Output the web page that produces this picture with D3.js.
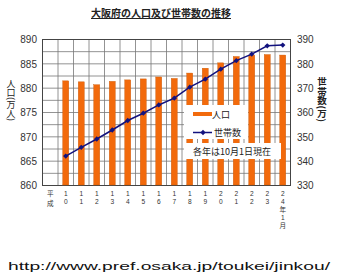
<!DOCTYPE html>
<html lang="ja">
<head>
<meta charset="UTF-8">
<title>大阪府の人口及び世帯数の推移</title>
<script src="https://d3js.org/d3.v7.min.js"></script>
<style>
  body { margin: 0; background: #fff; }
  text { font-family: "Liberation Sans", "Noto Sans CJK JP", sans-serif; }
  .jp { font-family: "Noto Sans CJK JP", sans-serif; }
</style>
</head>
<body>
<svg class="chart" width="355" height="278"></svg>
<script>
// data
const years = ["10", "11", "12", "13", "14", "15", "16", "17", "18", "19", "20", "21", "22", "23", "24年1月"];
const population = [881.4, 881.2, 880.6, 881.3, 881.6, 881.8, 882.2, 881.9, 883.0, 884.0, 885.1, 886.4, 886.7, 886.8, 886.7];
const households = [341.9, 345.5, 348.9, 352.6, 356.5, 359.5, 362.9, 365.7, 370.2, 373.5, 377.6, 381.1, 383.8, 387.2, 387.5];
const leftTicks = [860, 865, 870, 875, 880, 885, 890];
const rightTicks = [330, 340, 350, 360, 370, 380, 390];

const svg = d3.select('.chart');
const plot = { left: 42, right: 290, top: 39, bottom: 185 };

const x = d3.scaleBand()
    .domain(["平成"].concat(years))
    .range([plot.left, plot.right]);
const yL = d3.scaleLinear().domain([860, 890]).range([plot.bottom, plot.top]);
const yR = d3.scaleLinear().domain([330, 390]).range([plot.bottom, plot.top]);

// title
svg.append('text')
    .attr('class', 'jp')
    .attr('x', 161).attr('y', 17)
    .attr('text-anchor', 'middle')
    .attr('font-size', 10).attr('font-weight', 'bold')
    .attr('text-decoration', 'underline')
    .attr('fill', '#222')
    .text('大阪府の人口及び世帯数の推移');

// grid
const grid = svg.append('g');
grid.selectAll('.hg').data(d3.range(860, 890.01, 2.5)).join('line')
    .attr('x1', plot.left).attr('x2', plot.right)
    .attr('y1', d => yL(d) + 0.5).attr('y2', d => yL(d) + 0.5)
    .attr('stroke', '#777').attr('stroke-width', 0.8);
grid.selectAll('.vg').data(x.domain()).join('line')
    .attr('x1', d => x(d) + 0.5).attr('x2', d => x(d) + 0.5)
    .attr('y1', plot.top).attr('y2', plot.bottom)
    .attr('stroke', '#777').attr('stroke-width', 0.8);
svg.append('rect')
    .attr('x', plot.left + 0.5).attr('y', plot.top + 0.5)
    .attr('width', plot.right - plot.left).attr('height', plot.bottom - plot.top)
    .attr('fill', 'none').attr('stroke', '#444').attr('stroke-width', 1);

// bars
const barW = 6;
svg.append('g').selectAll('rect').data(years).join('rect')
    .attr('x', (d, i) => x(d) + x.bandwidth() / 2 - barW / 2 + 0.5)
    .attr('y', (d, i) => yL(population[i]))
    .attr('width', barW)
    .attr('height', (d, i) => yL(860) - yL(population[i]))
    .attr('fill', '#F26A0C')
    .attr('stroke', '#c85a08').attr('stroke-width', 0.4);

// legend + note boxes
svg.append('rect').attr('x', 184).attr('y', 105).attr('width', 64).attr('height', 34).attr('fill', '#fff');
svg.append('rect').attr('x', 184).attr('y', 143).attr('width', 97).attr('height', 16).attr('fill', '#fff');

// household line
const line = d3.line()
    .x((d, i) => x(years[i]) + x.bandwidth() / 2 + 0.5)
    .y(d => yR(d));
svg.append('path').datum(households)
    .attr('d', line)
    .attr('fill', 'none').attr('stroke', '#12127e').attr('stroke-width', 1.5);
const diamond = d3.symbol().type(d3.symbolDiamond2).size(18);
svg.append('g').selectAll('path').data(households).join('path')
    .attr('transform', (d, i) => `translate(${x(years[i]) + x.bandwidth() / 2 + 0.5},${yR(d)})`)
    .attr('d', diamond)
    .attr('fill', '#12127e');

// legend contents
svg.append('rect').attr('x', 193).attr('y', 112).attr('width', 19).attr('height', 4).attr('fill', '#F26A0C');
svg.append('text').attr('class', 'jp').attr('x', 212).attr('y', 118).attr('font-size', 9).attr('fill', '#222').text('人口');
svg.append('line').attr('x1', 193).attr('x2', 212).attr('y1', 132.5).attr('y2', 132.5)
    .attr('stroke', '#12127e').attr('stroke-width', 1.5);
svg.append('path').attr('transform', 'translate(203,132.5)').attr('d', diamond).attr('fill', '#12127e');
svg.append('text').attr('class', 'jp').attr('x', 214).attr('y', 136).attr('font-size', 9).attr('fill', '#222').text('世帯数');
svg.append('text').attr('class', 'jp').attr('x', 232).attr('y', 155).attr('text-anchor', 'middle')
    .attr('font-size', 9).attr('fill', '#222').text('各年は10月1日現在');

// left axis
const axL = svg.append('g')
    .attr('transform', `translate(${plot.left - 4},0.5)`)
    .call(d3.axisLeft(yL).tickValues(leftTicks).tickSize(0).tickPadding(1));
axL.select('.domain').remove();
axL.selectAll('text').attr('font-size', 10).attr('fill', '#333').attr('font-family', '"Liberation Sans", sans-serif');

// right axis
const axR = svg.append('g')
    .attr('transform', `translate(${plot.right + 6},0.5)`)
    .call(d3.axisRight(yR).tickValues(rightTicks).tickSize(0).tickPadding(1));
axR.select('.domain').remove();
axR.selectAll('text').attr('font-size', 10).attr('fill', '#333').attr('font-family', '"Liberation Sans", sans-serif');

// axis titles
svg.append('text').attr('class', 'jp')
    .attr('x', 11).attr('y', 79)
    .attr('writing-mode', 'vertical-rl')
    .attr('font-size', 9).attr('fill', '#222')
    .text('人口(万人)');
svg.append('text').attr('class', 'jp')
    .attr('x', 322).attr('y', 77)
    .attr('writing-mode', 'vertical-rl')
    .attr('font-size', 9.5).attr('font-weight', 'bold').attr('fill', '#222')
    .text('世帯数(万)');

// category labels, one character per line
const catG = svg.append('g');
x.domain().forEach(d => {
    const cx = x(d) + x.bandwidth() / 2 + 0.5;
    const step = d === "平成" ? 9.5 : 8;
    catG.selectAll(null).data(Array.from(d)).join('text')
        .attr('text-anchor', 'middle')
        .attr('font-size', 6.6).attr('fill', '#333')
        .attr('x', cx)
        .attr('y', (c, i) => 196 + i * step)
        .text(c => c);
});

// source url
svg.append('text')
    .attr('x', 8).attr('y', 270)
    .attr('font-family', '"Liberation Mono", "DejaVu Sans Mono", monospace')
    .attr('font-size', 11).attr('fill', '#111')
    .attr('textLength', 322).attr('lengthAdjust', 'spacingAndGlyphs')
    .text('http://www.pref.osaka.jp/toukei/jinkou/');
</script>
</body>
</html>
